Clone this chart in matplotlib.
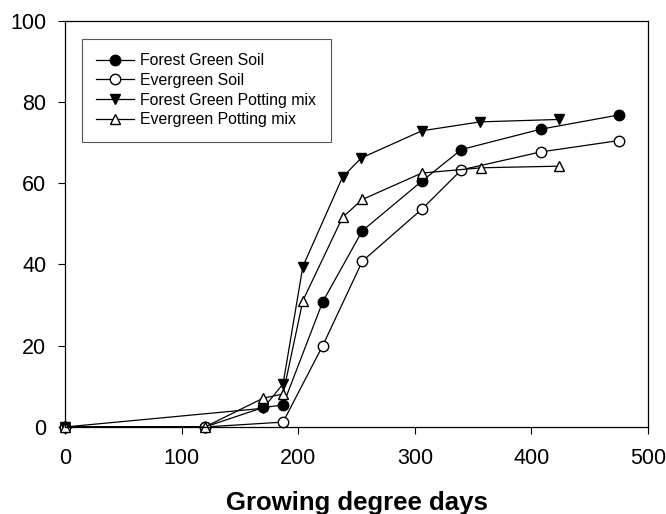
import numpy as np
import matplotlib
matplotlib.use("Agg")
import matplotlib.pyplot as plt

plt.rcParams['font.family'] = ['Liberation Sans', 'DejaVu Sans']

# Forest Green Soil
fgs_x = [0, 120, 170, 187, 221, 255, 306, 340, 408, 475]
fgs_y = [0, 0, 4.8, 5.4, 30.8, 48.3, 60.5, 68.3, 73.3, 76.8]
# Evergreen Soil
egs_x = [0, 120, 187, 221, 255, 306, 340, 408, 475]
egs_y = [0, 0, 1.2, 20.0, 40.8, 53.6, 63.3, 67.7, 70.5]
# Forest Green Potting mix
fgp_x = [0, 170, 187, 204, 238, 254, 306, 356, 424]
fgp_y = [0, 4.6, 10.6, 39.5, 61.5, 66.2, 72.9, 75.1, 75.7]
# Evergreen Potting mix
egp_x = [0, 120, 170, 187, 204, 238, 255, 306, 357, 424]
egp_y = [0, 0, 7.1, 8.1, 31.1, 51.6, 56.0, 62.5, 63.8, 64.2]

fig = plt.figure(figsize=(6.66, 5.14), dpi=100)
ax = fig.add_axes([0.0976, 0.1693, 0.8754, 0.7904])

kw = dict(color='black', linewidth=0.9, markersize=7.5, markeredgewidth=1.0,
          markeredgecolor='black', clip_on=False)
ax.plot(fgs_x, fgs_y, marker='o', markerfacecolor='black', label='Forest Green Soil', **kw)
ax.plot(egs_x, egs_y, marker='o', markerfacecolor='white', label='Evergreen Soil', **kw)
ax.plot(fgp_x, fgp_y, marker='v', markerfacecolor='black', label='Forest Green Potting mix', **kw)
ax.plot(egp_x, egp_y, marker='^', markerfacecolor='white', label='Evergreen Potting mix', **kw)

ax.set_xlim(0, 500)
ax.set_ylim(0, 100)
ax.set_xticks(np.arange(0, 501, 100))
ax.set_yticks(np.arange(0, 101, 20))
ax.tick_params(direction='out', length=5, width=0.8, labelsize=15.5)
ax.tick_params(axis='x', pad=10)
ax.tick_params(axis='y', pad=8.5)
ax.set_xlabel('Growing degree days', fontsize=18.5, fontweight='bold', labelpad=16)
for s in ax.spines.values():
    s.set_linewidth(0.9)

leg = ax.legend(loc='upper left', bbox_to_anchor=(0.029, 0.955), fontsize=11.4,
                fancybox=False, frameon=True, edgecolor='#555555', framealpha=1,
                handlelength=2.4, labelspacing=0.3, borderpad=0.9, handletextpad=0.4,
                borderaxespad=0)
leg.get_frame().set_linewidth(0.8)

fig.savefig('out.png', dpi=100)
